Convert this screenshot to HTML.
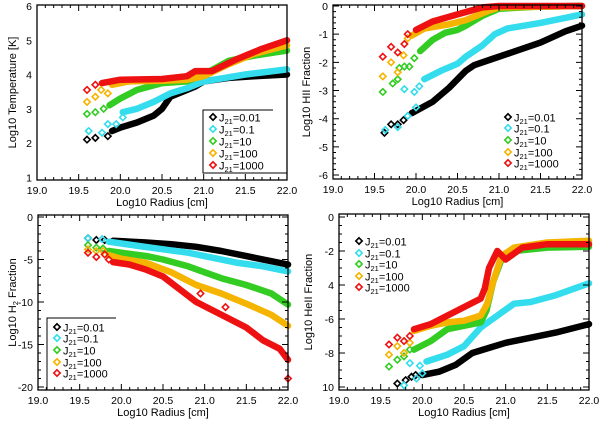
<!DOCTYPE html>
<html><head><meta charset="utf-8"><style>
body{margin:0;background:#fff;}
svg{display:block;font-family:"Liberation Sans",sans-serif;}
</style></head><body>
<svg id="fig" width="600" height="421" viewBox="0 0 600 421"></svg>
<script>
// ---------- data ----------
const seriesNames = ["J21=0.01","J21=0.1","J21=10","J21=100","J21=1000"];
const seriesLabelsVal = ["0.01","0.1","10","100","1000"];
const seriesColors = ["#000000","#33dded","#33cc22","#f5b400","#ee1111"];
const xTicks = [19.0,19.5,20.0,20.5,21.0,21.5,22.0];
const xTickLabels = ["19.0","19.5","20.0","20.5","21.0","21.5","22.0"];

// Temperature panel
const tempSparseX = [[19.6,19.7,19.85],[19.62,19.78,19.85,19.95,20.03],[19.6,19.7,19.8],[19.6,19.7,19.77,19.85],[19.6,19.7]];
const tempSparseY = [[2.1,2.15,2.2],[2.35,2.3,2.55,2.55,2.75],[2.85,2.9,3.0],[3.2,3.35,3.55,3.45],[3.55,3.7]];
const tempLineX = [[19.9,20.0,20.2,20.4,20.5,20.6,20.75,20.9,21.0,21.3,21.6,22.0],[20.03,20.2,20.4,20.6,20.8,21.0,21.5,22.0],[19.87,20.0,20.2,20.5,20.8,21.0,21.3,21.6,22.0],[19.9,20.1,20.5,20.8,21.0,21.3,21.6,22.0],[19.78,20.0,20.5,20.8,20.9,21.1,21.4,21.7,22.0]];
const tempLineY = [[2.35,2.45,2.6,2.8,3.0,3.35,3.5,3.65,3.8,3.9,3.95,4.0],[2.9,3.0,3.2,3.45,3.6,3.8,4.0,4.15],[3.1,3.3,3.55,3.75,3.8,4.0,4.4,4.55,4.7],[3.7,3.8,3.82,3.85,3.95,4.3,4.6,4.85],[3.75,3.85,3.87,3.95,4.1,4.1,4.45,4.75,5.0]];

// HII panel
const hiiSparseX = [[19.62,19.7,19.78,19.85],[19.63,19.78,19.9,20.0,19.86,19.98,20.04],[19.6,19.72,19.78,19.86,19.92,19.98,19.8],[19.6,19.7,19.78,19.85,19.9],[19.6,19.7,19.78,19.86,19.9]];
const hiiSparseY = [[-4.5,-4.2,-4.2,-4.05],[-4.4,-4.3,-3.9,-3.6,-2.95,-3.05,-2.85],[-3.05,-2.75,-2.6,-2.15,-2.15,-1.85,-2.2],[-2.5,-2.0,-2.35,-1.75,-1.15],[-1.8,-1.45,-1.65,-1.35,-1.0]];
const hiiLineX = [[19.95,20.2,20.4,20.6,20.7,20.9,21.2,21.5,21.8,22.0],[20.1,20.3,20.5,20.6,20.8,20.95,21.1,21.5,22.0],[20.05,20.2,20.35,20.5,20.6,20.8,21.0,21.5,22.0],[19.95,20.1,20.4,20.6,20.85,21.0,22.0],[20.0,20.2,20.5,20.8,21.0,22.0]];
const hiiLineY = [[-3.8,-3.4,-2.9,-2.3,-2.1,-1.9,-1.6,-1.3,-0.9,-0.7],[-2.6,-2.3,-2.05,-1.8,-1.4,-1.0,-0.8,-0.6,-0.3],[-1.6,-1.2,-0.95,-0.85,-0.7,-0.35,-0.1,-0.02,0],[-1.05,-0.8,-0.65,-0.5,-0.2,-0.05,0],[-0.85,-0.55,-0.3,-0.05,0,0]];

// H2 panel
const h2SparseX = [[19.6,19.7,19.8],[19.6,19.77],[19.6,19.7,19.78],[19.6,19.7,19.78],[19.6,19.7,19.8,19.85,20.95,21.25,22.0]];
const h2SparseY = [[-2.5,-2.7,-2.7],[-2.5,-2.6],[-3.3,-3.6,-3.7],[-3.8,-4.0,-4.0],[-4.2,-4.7,-4.4,-5.0,-9.0,-10.6,-19.0]];
const h2LineX = [[19.9,20.3,20.6,20.9,21.2,21.5,21.8,22.0],[19.85,20.2,20.5,20.8,21.1,21.4,21.7,22.0],[19.85,20.0,20.3,20.5,20.8,21.0,21.2,21.5,21.8,22.0],[19.85,20.0,20.3,20.6,20.9,21.2,21.5,21.8,22.0],[19.9,20.1,20.3,20.5,20.7,20.9,21.1,21.3,21.5,21.7,21.9,22.0]];
const h2LineY = [[-2.8,-3.0,-3.2,-3.5,-4.0,-4.6,-5.2,-5.6],[-2.9,-3.4,-3.8,-4.2,-4.8,-5.4,-5.8,-6.4],[-4.0,-4.2,-4.6,-5.0,-5.8,-6.5,-7.2,-8.0,-9.0,-10.3],[-4.5,-4.9,-5.4,-6.5,-8.0,-9.0,-10.2,-11.5,-12.8],[-5.3,-5.6,-6.2,-7.0,-8.5,-10.0,-11.0,-12.0,-13.0,-14.5,-15.5,-16.8]];

// HeII panel
const heiiSparseX = [[19.7,19.8,19.87,19.92],[19.78,19.85,19.93,20.0,19.97],[19.6,19.7,19.78,19.85],[19.6,19.7,19.78,19.85],[19.6,19.7,19.78,19.85]];
const heiiSparseY = [[-9.8,-9.6,-9.4,-9.3],[-9.9,-8.6,-9.5,-9.2,-8.75],[-8.8,-8.4,-8.2,-7.8],[-8.1,-7.6,-8.0,-7.4],[-7.5,-7.1,-7.3,-7.0]];
const heiiLineX = [[20.0,20.2,20.4,20.6,20.8,21.0,21.3,21.6,22.0],[20.05,20.3,20.5,20.7,20.9,21.1,21.3,21.6,22.0],[19.9,20.1,20.3,20.5,20.7,20.77,20.85,20.95,21.1,21.5,22.0],[19.9,20.1,20.3,20.5,20.7,20.78,20.85,20.95,21.1,21.5,22.0],[19.9,20.1,20.3,20.5,20.7,20.75,20.8,20.9,21.0,21.2,21.5,22.0]];
const heiiLineY = [[-9.3,-9.1,-8.7,-8.0,-7.7,-7.4,-7.1,-6.8,-6.3],[-8.5,-8.1,-7.6,-6.5,-5.8,-5.1,-5.0,-4.6,-3.9],[-7.8,-7.3,-6.6,-6.4,-6.2,-5.5,-3.8,-2.5,-2.0,-1.8,-1.75],[-6.7,-6.4,-6.2,-6.1,-5.8,-5.1,-3.8,-2.3,-1.8,-1.5,-1.4],[-6.6,-6.3,-5.8,-5.3,-4.8,-4.2,-3.0,-2.0,-2.5,-1.8,-1.6,-1.6]];

const yTicksT = [1,2,3,4,5,6], yTicksHII = [0,-1,-2,-3,-4,-5,-6], yTicksH2 = [0,-5,-10,-15,-20], yTicksHe = [0,-2,-4,-6,-8,-10];
const yTickLabelsHe = ["0","-2","4","-6","-8","10"];

// ---------- drawing ----------
const NS = "http://www.w3.org/2000/svg";
const svg = document.getElementById('fig');
function mk(tag, attrs, parent){const e=document.createElementNS(NS,tag);for(const k in attrs)e.setAttribute(k,attrs[k]);(parent||svg).appendChild(e);return e;}

function panel(cfg){
  const g = mk('g',{});
  
  
  const X = v => cfg.x0 + (v-19)/(3)*(cfg.x1-cfg.x0);
  const Y = v => cfg.y1 - (v-cfg.ymin)/(cfg.ymax-cfg.ymin)*(cfg.y1-cfg.y0);
  for(let s=0;s<5;s++){
    const pts = cfg.lx[s].map((v,i)=>X(v).toFixed(1)+','+Y(cfg.ly[s][i]).toFixed(1)).join(' ');
    const pl = mk('polyline',{points:pts,fill:'none',stroke:seriesColors[s],'stroke-width':6.5,'stroke-linejoin':'round','stroke-linecap':'round'},g);
    
    
    cfg.sx[s].forEach((v,i)=>{
      const cx=X(v), cy=Y(cfg.sy[s][i]);
      const d = mk('polygon',{points:`${cx},${cy-3.2} ${cx+3.2},${cy} ${cx},${cy+3.2} ${cx-3.2},${cy}`,fill:'none',stroke:seriesColors[s],'stroke-width':1.6},g);
      
      
    });
  }
  const box = mk('rect',{x:cfg.x0,y:cfg.y0,width:cfg.x1-cfg.x0,height:cfg.y1-cfg.y0,fill:'none',stroke:'#000','stroke-width':1.3},g);
  
  
  let path='';
  for(let k=0;k<=30;k++){const v=19+k*0.1;const px=X(v);const L=(k%5==0)?6:3;
    path+=`M${px},${cfg.y1}v${-L}M${px},${cfg.y0}v${L}`;}
  xTicks.forEach((v,i)=>{const t=mk('text',{x:X(v),y:cfg.y1+14,'font-size':10.5,'text-anchor':'middle'},g);t.textContent=xTickLabels[i];
    
    });
  const step = cfg.ystep/cfg.yminor;
  for(let v=cfg.yt[cfg.yt.length-1]; v<=cfg.yt[0]+1e-6; v+=step){
    const py=Y(v);const major=Math.abs(Math.round(v/cfg.ystep)*cfg.ystep - v)<1e-6;const L=major?6:3;
    if(py<cfg.y0-0.5||py>cfg.y1+0.5)continue;
    path+=`M${cfg.x0},${py}h${L}M${cfg.x1},${py}h${-L}`;}
  const tp = mk('path',{d:path,stroke:'#000','stroke-width':1,fill:'none'},g);
  
  
  cfg.yt.forEach((v,i)=>{const t=mk('text',{x:cfg.x0-5,y:Y(v)+4,'font-size':10.5,'text-anchor':'end'},g);
    t.textContent=cfg.ytl?cfg.ytl[i]:String(v);
    
    });
  const xt=mk('text',{x:(cfg.x0+cfg.x1)/2,y:cfg.y1+26,'font-size':11,'text-anchor':'middle'},g);xt.textContent='Log10 Radius [cm]';
  
  
  const cy=(cfg.y0+cfg.y1)/2;
  const yt=mk('text',{x:cfg.ytx,y:cy,'font-size':11,'text-anchor':'middle',transform:`rotate(-90 ${cfg.ytx} ${cy})`},g);
  yt.innerHTML=cfg.ytitle;
  
  
  const lg=mk('g',{},g);
  
  
  if(cfg.lbox){const b=cfg.lbox;mk('path',{d:`M${b[2]},${b[1]}H${b[0]}V${b[3]}`+(b[4]?`H${cfg.x1}`:''),stroke:'#000','stroke-width':1,fill:'none'},lg);}
  for(let s=0;s<5;s++){
    const ly=cfg.legY[s], lx=cfg.legX;
    const e=mk('g',{},lg);
    
    
    mk('polygon',{points:`${lx},${ly-3.2} ${lx+3.2},${ly} ${lx},${ly+3.2} ${lx-3.2},${ly}`,fill:'none',stroke:seriesColors[s],'stroke-width':1.6},e);
    const t=mk('text',{x:lx+6,y:ly+4.5,'font-size':11},e);
    t.innerHTML=`J<tspan font-size="7.5" dy="2.5">21</tspan><tspan dy="-2.5">=${seriesLabelsVal[s]}</tspan>`;
  }
}

panel({name:'temperature-panel',x0:37,x1:287,y0:5,y1:180,ymin:0.92,ymax:6.03,yt:yTicksT,ystep:1,yminor:5,
  sx:tempSparseX,sy:tempSparseY,lx:tempLineX,ly:tempLineY,ytx:16,ytitle:'Log10 Temperature [K]',
  lbox:[203,110,273,173,true],legX:213,legY:[117,129,141,153,165]});
panel({name:'hii-fraction-panel',x0:333,x1:582,y0:5,y1:179,ymin:-6.14,ymax:0.035,yt:yTicksHII,ystep:1,yminor:5,
  sx:hiiSparseX,sy:hiiSparseY,lx:hiiLineX,ly:hiiLineY,ytx:310,ytitle:'Log10 HII Fraction',
  legX:508,legY:[117,128,140,152,163]});
panel({name:'h2-fraction-panel',x0:38,x1:288,y0:215,y1:390,ymin:-20.35,ymax:0.24,yt:yTicksH2,ystep:5,yminor:5,
  sx:h2SparseX,sy:h2SparseY,lx:h2LineX,ly:h2LineY,ytx:16,ytitle:'Log10 H<tspan font-size="7.5" dy="2">2</tspan><tspan dy="-2"> Fraction</tspan>',
  lbox:[47,318,116,390,false],legX:57,legY:[327,338,350,362,373]});
panel({name:'heii-fraction-panel',x0:339,x1:589,y0:214,y1:390,ymin:-10.18,ymax:0.18,yt:yTicksHe,ystep:2,yminor:4,ytl:yTickLabelsHe,
  sx:heiiSparseX,sy:heiiSparseY,lx:heiiLineX,ly:heiiLineY,ytx:312,ytitle:'Log10 HeII Fraction',
  legX:359,legY:[241,253,264,276,287]});
</script>
</body></html>
